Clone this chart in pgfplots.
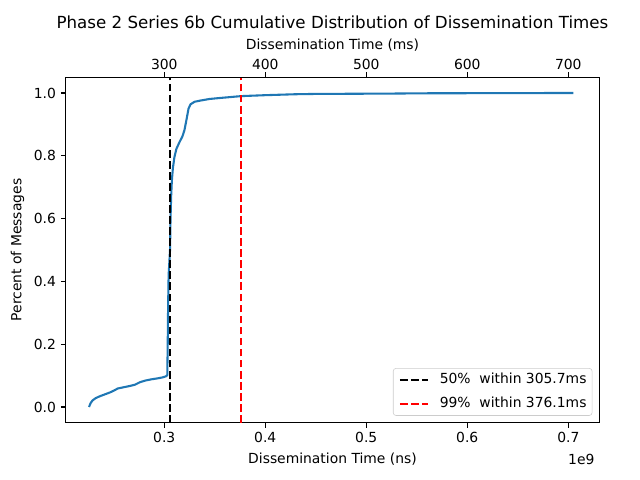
\documentclass[border=0pt]{standalone}
\usepackage{pgfplots}
\pgfplotsset{compat=1.18}
\usepackage{fontspec}
\setmainfont{DejaVu Sans}
\definecolor{tabblue}{HTML}{1F77B4}
\begin{document}
\begin{tikzpicture}
\useasboundingbox (-47.3pt,-41.26pt) rectangle (413.5pt,304.34pt);
\begin{axis}[
  at={(0,0)}, anchor=south west,
  scale only axis, width=384.2pt, height=248.7pt,
  xmin=202.4, xmax=730.7, ymin=-0.05, ymax=1.05,
  axis x line*=bottom, axis y line*=left,
  /pgf/number format/assume math mode=true,
  tick align=outside, major tick length=3.5pt,
  tick style={black, line width=0.8pt},
  axis line style={line width=0.8pt},
  xtick={300,400,500,600,700},
  xticklabels={0.3,0.4,0.5,0.6,0.7},
  ytick={0,0.2,0.4,0.6,0.8,1.0},
  yticklabel style={/pgf/number format/fixed,/pgf/number format/precision=1,/pgf/number format/fixed zerofill},
  ticklabel style={font=\fontsize{10}{12}\selectfont},
  xlabel={Dissemination Time (ns)},
  ylabel={Percent of Messages},
  label style={font=\fontsize{10}{12}\selectfont},
  legend style={at={(rel axis cs:1,0)}, xshift=-5pt, yshift=5pt, anchor=south east,
    draw=black!20, rounded corners=2pt, font=\fontsize{10}{12}\selectfont,
    inner xsep=4pt, inner ysep=3.3pt, row sep=7.3pt,
    /tikz/every odd column/.append style={column sep=8pt},
    nodes={inner xsep=0pt, inner ysep=0pt, text height=7.5pt, text depth=2.5pt}},
  legend cell align=left,
  legend image code/.code={\draw[#1, rounded corners=0pt] (0pt,0pt) -- (20pt,0pt);},
  clip=false,
]
\addplot[tabblue, line width=1.5pt, forget plot] coordinates {
(225.5,0.000) (227,0.012) (229,0.021) (232,0.028) (236,0.034) (241,0.040)
(246,0.046) (250,0.052) (254,0.059) (260,0.063) (266,0.067) (271,0.071)
(276,0.079) (281,0.084) (287,0.088) (293,0.091) (298,0.094) (302,0.098)
(303.0,0.102) (303.4,0.20) (303.8,0.32) (304.3,0.42) (305.7,0.50)
(306.2,0.60) (306.8,0.67) (307.5,0.72) (308.5,0.76) (310,0.795)
(312,0.822) (315,0.843) (318,0.862) (320,0.882) (322,0.915) (324,0.950)
(326,0.964) (330,0.972) (336,0.976) (345,0.981) (355,0.984) (376,0.990)
(400,0.993) (430,0.996) (450,0.997) (520,0.998) (560,0.9990) (705,1.000)
};
\addplot[black, line width=1.5pt, dash pattern=on 5.55pt off 2.4pt] coordinates {(305.7,-0.05) (305.7,1.05)};
\addlegendentry{50\%\ \ within 305.7ms}
\addplot[red, line width=1.5pt, dash pattern=on 5.55pt off 2.4pt] coordinates {(376.1,-0.05) (376.1,1.05)};
\addlegendentry{99\%\ \ within 376.1ms}
\node[anchor=north east, font=\fontsize{10}{12}\selectfont] at (rel axis cs:1,0) [yshift=-19pt] {1e9};
\node[font=\fontsize{12}{14}\selectfont] at (rel axis cs:0.5,1) [yshift=39.8pt] {Phase 2 Series 6b Cumulative Distribution of Dissemination Times};
\end{axis}
\begin{axis}[
  at={(0,0)}, anchor=south west,
  scale only axis, width=384.2pt, height=248.7pt,
  xmin=202.4, xmax=730.7, ymin=-0.05, ymax=1.05,
  axis x line*=top, axis y line*=right,
  /pgf/number format/assume math mode=true,
  tick align=outside, major tick length=3.5pt,
  tick style={black, line width=0.8pt},
  axis line style={line width=0.8pt},
  xtick={300,400,500,600,700},
  ytick=\empty,
  ticklabel style={font=\fontsize{10}{12}\selectfont},
  xticklabel style={yshift=-1.5pt},
  xlabel={Dissemination Time (ms)},
  xlabel style={yshift=-1.5pt},
  label style={font=\fontsize{10}{12}\selectfont},
]
\end{axis}
\end{tikzpicture}
\end{document}
